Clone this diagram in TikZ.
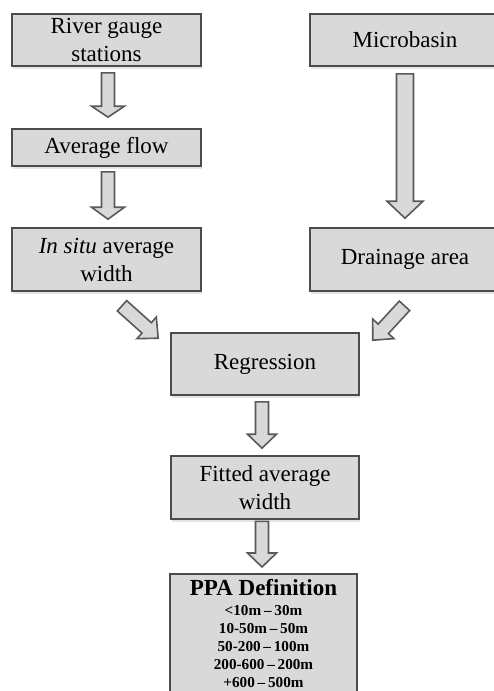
\documentclass[tikz,border=0pt]{standalone}
\usepackage{fontspec}
\setmainfont{Liberation Serif}
\usetikzlibrary{calc,shadows}
\tikzset{
  flowbox/.style={draw=black!70, fill=black!15, line width=0.8pt, inner sep=0pt,
    align=center, font=\fontsize{11.5}{14}\selectfont,
    drop shadow={shadow xshift=0.4pt, shadow yshift=-1.3pt, opacity=0.25, fill=black!40}},
  blockarrow/.style={draw=black!65, fill=black!15, line width=0.8pt, line join=miter},
}
% block arrow: tail, tip, shaft half-width, head half-width, head length
\newcommand{\fatarrow}[5]{%
  \draw[blockarrow]
    ($(#1)!#3!90:(#2)$) -- ($(#2)!#5!(#1)!#3!90:(#2)$)
    -- ($(#2)!#5!(#1)!#4!90:(#2)$) -- (#2)
    -- ($(#2)!#5!(#1)!#4!-90:(#2)$) -- ($(#2)!#5!(#1)!#3!-90:(#2)$)
    -- ($(#1)!#3!-90:(#2)$) -- cycle;}
\newcommand{\rdash}{\hspace{1.4pt}–\hspace{1.4pt}}

\begin{document}
\begin{tikzpicture}[x=0.5pt, y=-0.5pt]
    \useasboundingbox (0,0) rectangle (493,691);
    % ---------------- left column: gauge data ----------------
    \node[flowbox, minimum width=94.5pt, minimum height=26pt] (gauge) at (106.5,40) {River gauge\\stations};
    \node[flowbox, minimum width=94.5pt, minimum height=18.5pt] (flow) at (106.5,147.5) {Average flow};
    \node[flowbox, minimum width=94.5pt, minimum height=31.5pt] (insitu) at (106.5,259.5) {\textit{In situ} average\\width};
    % ---------------- right column: basin data ----------------
    \node[flowbox, minimum width=95pt, minimum height=26pt] (micro) at (405,40) {Microbasin};
    \node[flowbox, minimum width=95pt, minimum height=31.5pt] (drain) at (405,259.5) {Drainage area};
    % ---------------- centre: fit and classes ----------------
    \node[flowbox, minimum width=94pt, minimum height=31pt] (regr) at (265,364) {Regression};
    \node[flowbox, minimum width=94pt, minimum height=31.5pt] (fitted) at (265,487.5) {Fitted average\\width};
    \node[flowbox, anchor=north, inner sep=2.6pt, minimum width=93.5pt,
          font=\bfseries\fontsize{7.6}{9.1}\selectfont] (ppa) at (263.5,573)
      {{\fontsize{11.5}{13}\selectfont PPA Definition}\\[0.8pt]
       <10m\rdash 30m\\10-50m\rdash 50m\\50-200\rdash 100m\\200-600\rdash 200m\\+600\rdash 500m\\[1pt]};
    % ---------------- arrows ----------------
    \coordinate (a1s) at ($(gauge.south)+(1.5,6)$);
    \coordinate (a1e) at ($(flow.north)+(1.5,-11)$);
    \coordinate (a2s) at ($(flow.south)+(1.5,5)$);
    \coordinate (a2e) at ($(insitu.north)+(1.5,-8)$);
    \coordinate (a3s) at ($(micro.south)+(0,7)$);
    \coordinate (a3e) at ($(drain.north)+(0,-9)$);
    \coordinate (a4s) at ($(insitu.south)+(15.5,14)$);
    \coordinate (a4e) at ($(regr.north west)+(-12,6)$);
    \coordinate (a5s) at ($(drain.south)+(-0.5,14)$);
    \coordinate (a5e) at ($(regr.north east)+(13,8)$);
    \coordinate (a6s) at ($(regr.south)+(-3,6)$);
    \coordinate (a6e) at ($(fitted.north)+(-3,-7)$);
    \coordinate (a7s) at ($(fitted.south)+(-3,1.5)$);
    \coordinate (a7e) at ($(ppa.north)+(-1.5,-6)$);
    \fatarrow{a1s}{a1e}{3.25pt}{8.25pt}{5.5pt}
    \fatarrow{a2s}{a2e}{3.25pt}{8.25pt}{6pt}
    \fatarrow{a3s}{a3e}{4.25pt}{9pt}{8.5pt}
    \fatarrow{a4s}{a4e}{3.5pt}{7.25pt}{7.75pt}
    \fatarrow{a5s}{a5e}{3.5pt}{7.25pt}{7.75pt}
    \fatarrow{a6s}{a6e}{3.25pt}{7.25pt}{7pt}
    \fatarrow{a7s}{a7e}{3.25pt}{7.25pt}{7pt}
  \end{tikzpicture}
\end{document}
